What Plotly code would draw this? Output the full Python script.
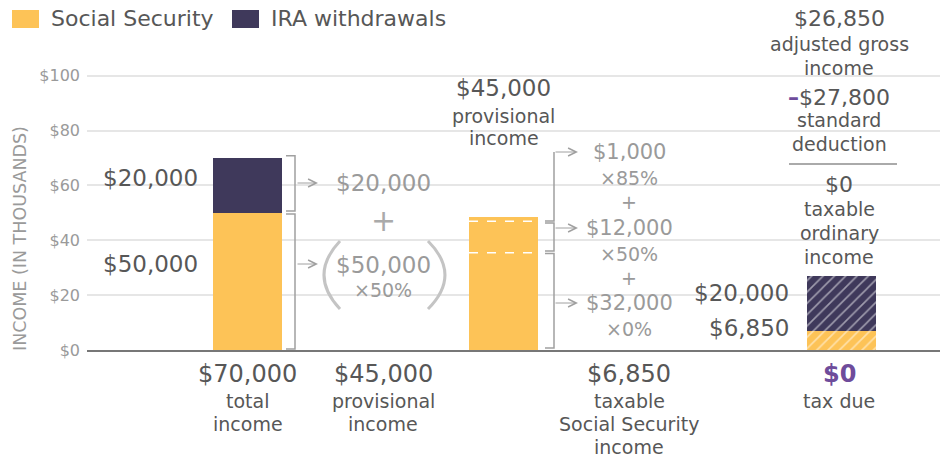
import plotly.graph_objects as go
import numpy as np

# --- datos (miles de dólares, tal como se dibujan) ---
series_names = ['Social Security', 'IRA withdrawals']
social_security = [50, 48.4, 6.85]
ira_withdrawals = [20, 0, 20]
bar_hatch = ['', '', '/']

# tramos del ingreso provisional (abajo -> arriba)
provisional_tiers = [35.5, 11.4, 1.5]
tier_amounts = ['$32,000', '$12,000', '$1,000']
tier_rates = ['×0%', '×50%', '×85%']

y_ticks = [0, 20, 40, 60, 80, 100]
y_ticktext = ['$0', '$20', '$40', '$60', '$80', '$100']

# --- estilo ---
YELLOW = '#FDC357'
NAVY = '#3F395B'
PURPLE = '#6E4C9B'
DARK = '#575757'
LIGHT = '#9A9A9A'
LINE = '#A0A0A0'
FONT = 'DejaVu Sans'

W, H = 950, 457
L, R, T, B = 87, 10, 73, 107
BAR_X = [247.5, 503.5, 841.5]
BAR_W = 69


def py(y):
    # pixel vertical -> coordenada paper
    return (H - B - y) / (H - T - B)


def px(x):
    return (x - L) / (W - L - R)


fig = go.Figure()
fig.add_trace(go.Bar(
    x=BAR_X, y=social_security, width=BAR_W, name=series_names[0],
    marker=dict(color=YELLOW, line_width=0,
                pattern=dict(shape=bar_hatch, fgcolor='white', size=8, solidity=0.2,
                             fillmode='overlay')),
    hoverinfo='skip'))
fig.add_trace(go.Bar(
    x=BAR_X, y=ira_withdrawals, width=BAR_W, name=series_names[1],
    marker=dict(color=NAVY, line_width=0,
                pattern=dict(shape=bar_hatch, fgcolor='white', size=8, solidity=0.2,
                             fillmode='overlay')),
    hoverinfo='skip'))


def label(text, x, y, size, color=DARK, xanchor='center', xref='x', **kw):
    fig.add_annotation(text=text, x=px(x) if xref == 'paper' else x, y=py(y),
                       xref=xref, yref='paper', showarrow=False, xanchor=xanchor,
                       yanchor='middle', font=dict(size=size, color=color, family=FONT), **kw)


def stack(x, y0, lines, size, color=DARK, step=23):
    for i, t in enumerate(lines):
        label(t, x, y0 + i * step, size, color)


def arrow(x0, x1, y):
    fig.add_annotation(x=x1, y=py(y), xref='x', yref='paper', ax=x0 - x1, ay=0,
                       axref='pixel', ayref='pixel', text='', showarrow=True,
                       arrowhead=5, arrowsize=1.6, arrowwidth=1, arrowcolor=LINE, standoff=0)


def bracket(x, y0, y1, top=True, bottom=True):
    path = f'M {x},{y0} L {x},{y1}'
    if bottom:
        path = f'M {x - 9},{y0} L {x},{y0} L {x},{y1}'
    if top:
        path += f' L {x - 9},{y1}'
    fig.add_shape(type='path', path=path, xref='x', yref='y',
                  line=dict(color=LINE, width=1.5))


# --- leyenda manual ---
for i, (name, col, x0) in enumerate(zip(series_names, [YELLOW, NAVY], [12, 232])):
    fig.add_shape(type='rect', xref='paper', yref='paper', x0=px(x0), x1=px(x0 + 27),
                  y0=py(28), y1=py(10), fillcolor=col, line_width=0)
    label(name, x0 + 37, 19, 22, DARK, xanchor='left', xref='paper')

# eje y
label('INCOME (IN THOUSANDS)', 20, 239, 17.5, LIGHT, xref='paper', textangle=-90)

# --- columna 1: ingreso total ---
ss0, ira0 = social_security[0], ira_withdrawals[0]
label(f'${ira0},000', 150, 178, 23)
label(f'${ss0},000', 150, 264, 23)
bracket(295, ss0 + 0.7, ss0 + ira0 + 0.8)
bracket(295, 0.4, ss0 - 0.4)
arrow(296, 318, 183)
arrow(296, 318, 264)
stack(247.5, 374, [f'${ss0 + ira0},000'], 24)
stack(247.5, 401, ['total', 'income'], 19)

# --- columna 2: cálculo del ingreso provisional ---
label(f'${ira0},000', 383, 183, 23, LIGHT)
label('+', 383, 220, 30, '#AAAAAA')
label(f'${ss0},000', 383, 265, 23, LIGHT)
label('×50%', 383, 290, 19, LIGHT)
for xe, xc in [(340, 308), (428, 462)]:
    fig.add_shape(type='path', xref='x', yref='paper',
                  path=f'M {xe},{py(241)} Q {xc},{py(275)} {xe},{py(309)}',
                  line=dict(color='#C4C4C4', width=3))
stack(383, 374, ['$45,000'], 24)
stack(383, 401, ['provisional', 'income'], 19)

# --- columna 3: ingreso provisional por tramos ---
breaks = np.cumsum(provisional_tiers)
x_l, x_r = BAR_X[1] - BAR_W / 2, BAR_X[1] + BAR_W / 2
for b in breaks[:-1]:
    fig.add_shape(type='line', xref='x', yref='y', x0=x_l, x1=x_r, y0=b, y1=b,
                  line=dict(color='white', width=1.5, dash='dash'))
label('$45,000', 503.5, 88, 23)
stack(503.5, 116, ['provisional', 'income'], 19, step=22)

bracket(554, 0.7, breaks[0] - 0.3)
bracket(554, breaks[0] + 0.6, breaks[1] - 0.6)
fig.add_shape(type='path', xref='x', yref='paper',
              path=f'M 545,{py(221)} L 554,{py(221)} L 554,{py(152)}',
              line=dict(color=LINE, width=1.5))
tier_y = [303, 228, 152]
for amt, rate, yy in zip(tier_amounts, tier_rates, tier_y):
    arrow(554, 578, yy)
    label(amt, 629, yy, 21, LIGHT)
    label(rate, 629, yy + 26, 19, LIGHT)
label('+', 629, 202, 19, LIGHT)
label('+', 629, 278, 19, LIGHT)

stack(629, 374, ['$6,850'], 24)
stack(629, 401, ['taxable', 'Social Security', 'income'], 19)

# --- columna 4: ingreso bruto ajustado e impuesto ---
ss2, ira2 = social_security[2], ira_withdrawals[2]
label(f'${ira2},000', 791, 293, 23, xanchor='right')
label('$6,850', 791, 328, 23, xanchor='right')
label('$26,850', 839, 18, 22)
stack(839, 44, ['adjusted gross', 'income'], 19, step=24)
label(f'<span style="color:{PURPLE}"><b>–</b></span>$27,800', 839, 97, 22)
stack(839, 120, ['standard', 'deduction'], 19, step=24)
fig.add_shape(type='line', xref='x', yref='paper', x0=789, x1=897, y0=py(164), y1=py(164),
              line=dict(color='#AAAAAA', width=2))
label('$0', 839, 184, 22)
stack(839, 209, ['taxable', 'ordinary', 'income'], 19, step=24)
label('<b>$0</b>', 839, 374, 24, PURPLE)
stack(839, 401, ['tax due'], 19)

fig.update_layout(
    width=W, height=H,
    margin=dict(l=L, r=R, t=T, b=B),
    barmode='stack',
    showlegend=False,
    plot_bgcolor='white', paper_bgcolor='white',
    font=dict(family=FONT, color=DARK),
    xaxis=dict(range=[L, W - R], showgrid=False, zeroline=False, showticklabels=False,
               showline=True, linecolor='#777777', linewidth=1.5, fixedrange=True),
    yaxis=dict(range=[0, 101], tickvals=y_ticks, ticktext=y_ticktext,
               showgrid=True, gridcolor='#E6E6E6', gridwidth=2, zeroline=False,
               tickfont=dict(size=16, color=LIGHT), ticklabelstandoff=6, fixedrange=True),
)

# sin margen del body para que la figura ocupe toda la ventana
fig.write_html('out.html', config={'displayModeBar': False},
               post_script="document.body.style.margin = '0';")
